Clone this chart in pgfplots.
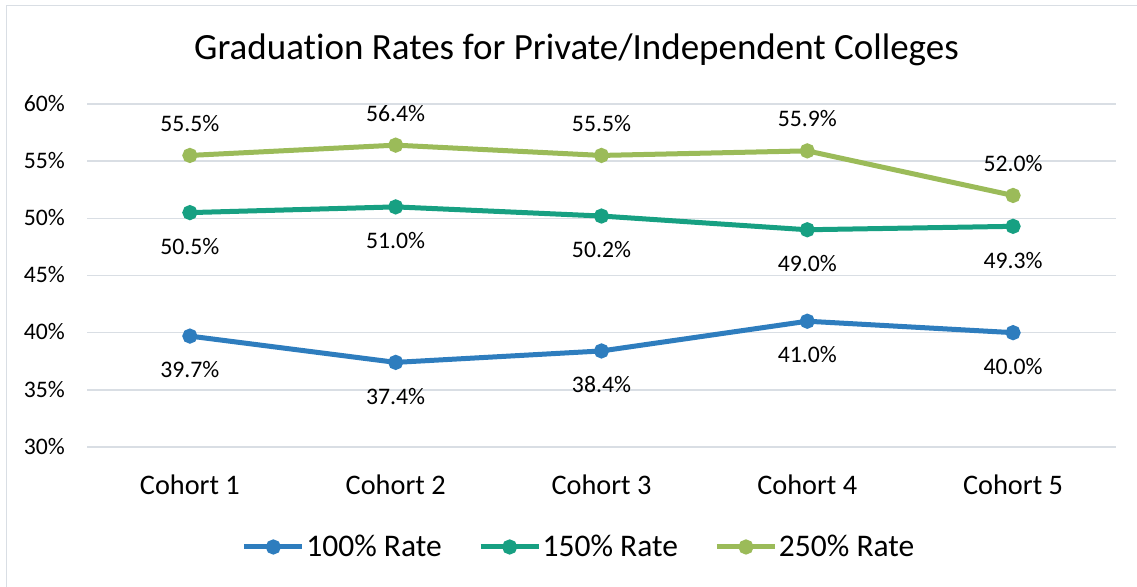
\documentclass[border=0pt]{standalone}
\usepackage{pgfplots}
\pgfplotsset{compat=1.18}
\usepackage{fontspec}
\setmainfont[Ligatures=NoCommon]{Carlito}
\pgfkeys{/pgf/number format/assume math mode=true}
\definecolor{cblue}{RGB}{46,125,190}
\definecolor{cteal}{RGB}{23,160,130}
\definecolor{cgreen}{RGB}{155,187,89}
\definecolor{cgrid}{RGB}{217,222,228}
\begin{document}
\begin{tikzpicture}[x=1bp,y=1bp]
\useasboundingbox (0,0) rectangle (1137,587);
\fill[white] (0,0) rectangle (1137,587);
\draw[cgrid, line width=1.5bp] (6.5,-5) -- (6.5,581.5) -- (1145,581.5);
\node[anchor=base, inner sep=0pt, font=\fontsize{37bp}{44bp}\selectfont] at (576.5,527.5) {Graduation Rates for Private/Independent Colleges};
\begin{axis}[
  at={(87bp,140bp)}, anchor=south west,
  scale only axis, width=1029bp, height=343bp,
  xmin=-0.5, xmax=4.5, ymin=30, ymax=60,
  xtick={0,1,2,3,4},
  xticklabels={Cohort 1,Cohort 2,Cohort 3,Cohort 4,Cohort 5},
  ytick={30,35,40,45,50,55,60},
  yticklabel={\pgfmathprintnumber[assume math mode=true]{\tick}\%},
  /pgf/number format/assume math mode=true,
  axis line style={draw=none},
  major tick length=0pt,
  tick style={draw=none},
  ymajorgrids,
  major grid style={cgrid, line width=1.5bp},
  xticklabel style={anchor=base, inner sep=0pt, yshift=-48bp, font=\fontsize{28.3bp}{34bp}\selectfont},
  yticklabel style={anchor=base east, inner sep=0pt, xshift=-22bp, yshift=-7.3bp, font=\fontsize{23.7bp}{28bp}\selectfont},
  nodes near coords={\pgfmathprintnumber[fixed,fixed zerofill,precision=1,assume math mode=true]{\pgfplotspointmeta}\%},
  every node near coord/.append style={font=\fontsize{23.7bp}{28bp}\selectfont, text=black, inner sep=0pt},
  legend columns=3,
  legend style={at={(0.478,-0.2915)}, anchor=center, draw=none, fill=none,
    font=\fontsize{31.5bp}{36bp}\selectfont,
    nodes={inner sep=1.5bp},
    /tikz/every even column/.append style={column sep=35bp},
    inner sep=0pt, row sep=0pt},
  legend image code/.code={%
    \draw[mark repeat=2,mark phase=2] plot coordinates {(0bp,0bp) (29bp,0bp) (58bp,0bp)};},
  clip=false,
]
\addplot[cblue, line width=5bp, mark=*, mark size=5bp, mark options={fill=cblue},
  every node near coord/.append style={anchor=base, yshift=-41.7bp}]
  coordinates {(0,39.7) (1,37.4) (2,38.4) (3,41.0) (4,40.0)};
\addlegendentry{100\% Rate}
\addplot[cteal, line width=5bp, mark=*, mark size=5bp, mark options={fill=cteal},
  every node near coord/.append style={anchor=base, yshift=-41.7bp}]
  coordinates {(0,50.5) (1,51.0) (2,50.2) (3,49.0) (4,49.3)};
\addlegendentry{150\% Rate}
\addplot[cgreen, line width=5bp, mark=*, mark size=5bp, mark options={fill=cgreen},
  every node near coord/.append style={anchor=base, yshift=24bp}]
  coordinates {(0,55.5) (1,56.4) (2,55.5) (3,55.9) (4,52.0)};
\addlegendentry{250\% Rate}
\end{axis}
\end{tikzpicture}
\end{document}
